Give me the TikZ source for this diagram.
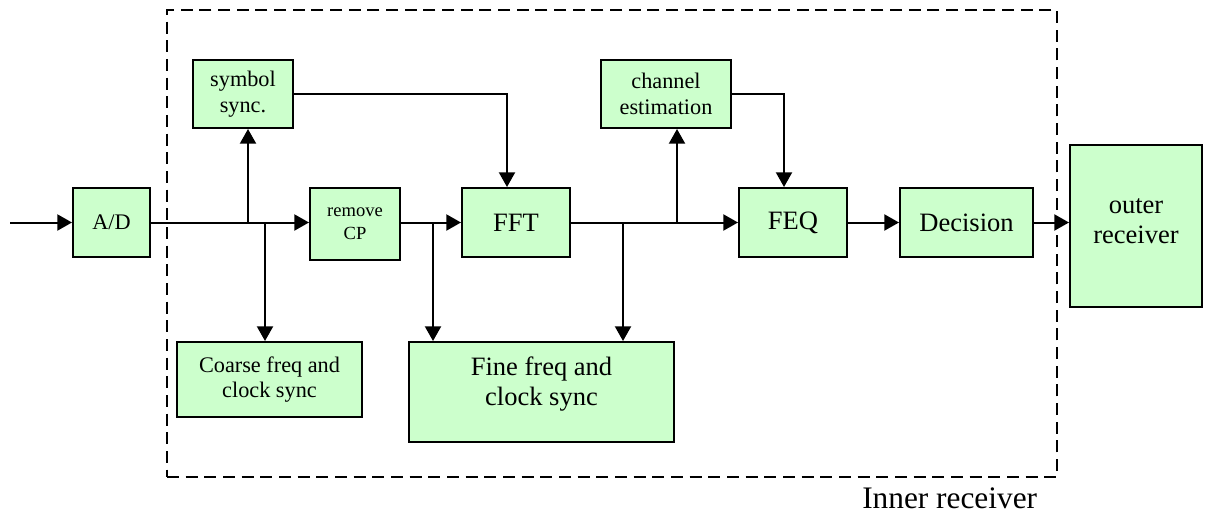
\documentclass[tikz,border=0pt]{standalone}
\usepackage{fontspec}
\setmainfont{Liberation Serif}
\usetikzlibrary{arrows.meta}
\definecolor{boxgreen}{HTML}{CCFFCC}
\begin{document}
\begin{tikzpicture}[x=0.75pt,y=-0.75pt,
  block/.style={draw=black, line width=1.5pt, fill=boxgreen, inner sep=0pt, align=center},
  sz/.style 2 args={minimum width=#1*0.75pt, minimum height=#2*0.75pt},
  fsmall/.style={font=\fontsize{13.9pt}{17pt}\selectfont},
  fmed/.style={font=\fontsize{16.7pt}{19.3pt}\selectfont},
  flarge/.style={font=\fontsize{19.9pt}{22.5pt}\selectfont},
  conn/.style={line width=1.5pt, draw=black},
  arr/.style={conn, -{Triangle[length=11pt, width=12pt]}},
  frame/.style={draw=black, line width=1.8pt, dash pattern=on 9pt off 5pt, inner sep=0pt}
]
\useasboundingbox (0,0) rectangle (1205,517);

% inner receiver frame
\node[frame, sz={890}{467}] (inner) at (612,243.5) {};
\node[anchor=base west, font=\fontsize{23.5pt}{27pt}\selectfont, inner sep=0pt] (innerlbl) at (862,508) {Inner receiver};

% processing blocks
\node[block, fmed, sz={77}{69}] (ad) at (111.5,222.5) {A/D};
\node[block, fsmall, sz={90}{72}] (rcp) at (355,224) {remove\\CP};
\node[block, fmed, sz={100}{68}] (sym) at (243,94) {symbol\\sync.};
\node[block, fmed, sz={185}{75}] (coarse) at (269.5,379.5) {Coarse freq and\\clock sync};
\node[block, flarge, sz={108}{69}] (fft) at (516,222.5) {FFT};
\node[block, sz={265}{100},
      label={[flarge, align=center, yshift=6pt]center:Fine freq and\\clock sync}] (fine) at (541.5,392) {};
\node[block, fmed, sz={130}{68}] (chan) at (666,94) {channel\\estimation};
\node[block, flarge, sz={108}{69}] (feq) at (793,222.5) {FEQ};
\node[block, flarge, sz={133}{69}] (dec) at (966.5,222.5) {Decision};
\node[block, sz={132}{162},
      label={[flarge, align=center, yshift=4pt]center:outer\\receiver}] (outer) at (1136,226) {};

% branch points on the signal path
\coordinate (in) at (10,222.5);
\coordinate (b1) at (248,222.5);
\coordinate (b2) at (265,222.5);
\coordinate (b3) at (433,222.5);
\coordinate (b4) at (623,222.5);
\coordinate (b5) at (677,222.5);
\coordinate (s1) at (507,94);
\coordinate (s2) at (784,94);

% main signal path
\draw[arr] (in) -- (ad.west);
\draw[arr] (ad.east) -- (ad.east -| rcp.west);
\draw[arr] (rcp.east |- ad.east) -- (fft.west);
\draw[arr] (fft.east) -- (feq.west);
\draw[arr] (feq.east) -- (dec.west);
\draw[arr] (dec.east) -- (dec.east -| outer.west);

% side branches
\draw[arr] (b1) -- (b1 |- sym.south);
\draw[arr] (b2) -- (b2 |- coarse.north);
\draw[arr] (b3) -- (b3 |- fine.north);
\draw[arr] (b4) -- (b4 |- fine.north);
\draw[arr] (b5) -- (b5 |- chan.south);
\draw[arr] (sym.east) -- (s1) -- (s1 |- fft.north);
\draw[arr] (chan.east) -- (s2) -- (s2 |- feq.north);
\end{tikzpicture}
\end{document}
